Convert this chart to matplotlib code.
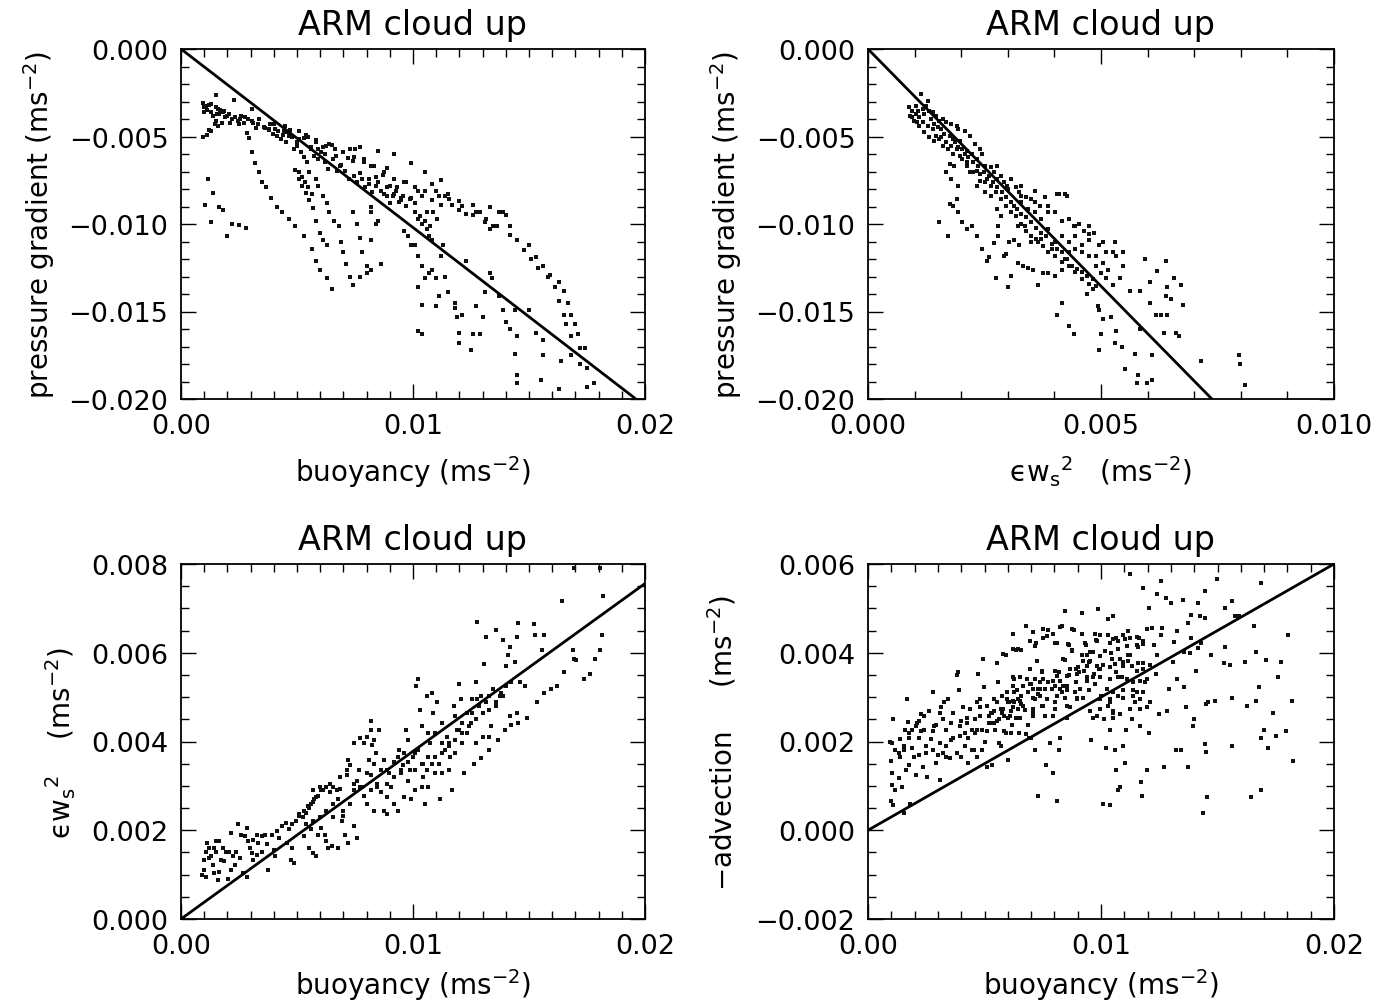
import numpy as np
import matplotlib
matplotlib.use('Agg')
import matplotlib.pyplot as plt
from matplotlib.ticker import MultipleLocator, FuncFormatter

plt.rcParams['font.family'] = ['DejaVu Sans']
plt.rcParams['mathtext.fontset'] = 'dejavusans'

# all values below are in units of 1e-3 m s^-2 (scaled when plotted)
SCALE = 1e-3

# top left: buoyancy vs pressure gradient
pts_a = np.array([
    [1.5, -2.6], [0.95, -3.1], [1.0, -3.3], [1.1, -3.5], [1.2, -3.2], [1.3, -3.6], [1.4, -3.8],
    [1.5, -4.1], [1.6, -3.4], [1.7, -3.5], [1.8, -3.6], [1.75, -4.2], [1.6, -4.4], [1.3, -4.7],
    [1.1, -4.9], [0.95, -5.0], [1.2, -4.6], [1.45, -4.3], [1.9, -3.9], [2.0, -3.8], [2.2, -4.0],
    [2.3, -2.9], [2.45, -4.1], [2.6, -3.8], [2.7, -4.2], [2.9, -4.0], [3.05, -3.4], [3.1, -4.2],
    [3.25, -4.5], [3.35, -4.0], [2.85, -4.8], [2.95, -5.1], [2.5, -4.3], [2.1, -4.2], [1.55, -3.7],
    [1.0, -3.6],
    [3.05, -5.9], [3.2, -6.5], [3.35, -7.0], [3.5, -7.6], [3.65, -7.9], [3.9, -8.5], [4.15, -9.05],
    [4.35, -9.3], [4.65, -9.7], [4.9, -10.1], [5.3, -10.7], [5.65, -11.4], [5.8, -12.1], [6.0, -12.6],
    [1.15, -7.4], [1.4, -8.2], [1.05, -8.9], [1.3, -9.9], [1.65, -9.0], [1.8, -9.2], [2.0, -10.7],
    [2.2, -10.0], [2.5, -10.05], [2.8, -10.25],
    [3.6, -4.5], [3.8, -4.6], [4.0, -4.3], [4.2, -4.7], [4.4, -4.9], [4.5, -4.4], [4.7, -4.6],
    [4.8, -5.0], [5.0, -5.3], [5.1, -4.7], [5.3, -5.1], [5.4, -4.9], [5.6, -5.6], [5.8, -5.2],
    [5.9, -5.7], [6.1, -5.6], [6.2, -6.0], [6.4, -5.4], [6.5, -5.5], [6.7, -6.1], [6.9, -6.6],
    [7.0, -5.9], [7.2, -6.2], [7.4, -6.4], [7.5, -5.7], [7.7, -7.1], [7.9, -6.3], [8.1, -7.4],
    [8.2, -6.7], [8.4, -7.3], [8.5, -7.6], [8.7, -7.2], [8.9, -6.8], [9.0, -7.8], [9.2, -8.3],
    [9.3, -7.9], [9.5, -8.5], [9.7, -7.6], [9.9, -8.5], [10.1, -8.8], [10.2, -8.1], [10.4, -8.4],
    [10.6, -9.3], [10.8, -8.6], [11.0, -8.1], [11.2, -8.9], [11.4, -8.4], [11.7, -8.9], [12.0, -9.2],
    [12.3, -9.4], [12.6, -9.5], [12.9, -9.3], [13.1, -9.9], [13.3, -10.3], [13.6, -10.1],
    [13.9, -9.3], [14.2, -10.6], [14.5, -10.9], [14.8, -11.5], [15.1, -12.0], [15.4, -12.5],
    [15.8, -13.0], [16.1, -13.6], [16.3, -14.4], [16.5, -15.2], [16.6, -15.7], [16.8, -16.4],
    [17.2, -17.1],
    [9.2, -6.0], [9.9, -6.5], [8.5, -5.8], [7.7, -5.6], [7.3, -5.7], [10.5, -7.0], [11.2, -7.5],
    [10.8, -7.7], [11.5, -8.3], [12.0, -8.7], [12.6, -8.9], [13.3, -9.0], [13.7, -9.3], [14.0, -9.5],
    [14.2, -10.1],
    [10.2, -11.8], [10.4, -12.4], [10.5, -13.1], [10.2, -13.6], [10.7, -12.8], [10.8, -12.6],
    [11.0, -13.1], [11.1, -14.1], [11.0, -14.7], [10.4, -14.6], [10.2, -16.1], [10.4, -16.3],
    [11.4, -13.0], [11.5, -13.9], [11.8, -14.5], [11.8, -14.8], [11.9, -15.3], [12.0, -16.2],
    [12.0, -16.8], [12.1, -15.2], [12.3, -12.1], [12.5, -17.2], [12.6, -16.3], [12.7, -14.7],
    [12.9, -16.3], [13.0, -15.3], [13.1, -13.9], [13.3, -12.8], [13.4, -13.1], [13.7, -14.1],
    [13.9, -14.9], [14.0, -15.6], [14.2, -16.0], [14.4, -14.9], [14.5, -16.4], [14.5, -18.6],
    [14.5, -19.1], [14.4, -17.4], [15.0, -14.9], [15.3, -16.2], [15.6, -16.6], [15.6, -17.5],
    [15.5, -18.9], [16.3, -19.4], [16.4, -17.8], [16.8, -17.5], [17.2, -18.0], [17.5, -18.2],
    [17.8, -19.1], [17.5, -19.3],
    [15.0, -11.2], [15.3, -11.9], [15.6, -12.4], [15.9, -12.9], [16.3, -13.3], [16.5, -13.8],
    [16.7, -14.5], [16.8, -15.2], [17.0, -15.7], [17.1, -16.3], [17.4, -17.1],
    [4.9, -6.9], [5.1, -7.4], [5.2, -7.8], [5.4, -8.2], [5.5, -8.6], [5.7, -9.1], [5.8, -9.8],
    [6.0, -10.5], [6.1, -10.9], [6.3, -11.2], [6.3, -13.1], [6.5, -13.7],
    [5.5, -7.0], [5.8, -7.4], [5.9, -7.8], [6.1, -8.4], [6.3, -8.8], [6.4, -9.3], [6.6, -9.8],
    [6.8, -10.1], [6.9, -11.0], [7.0, -11.6], [7.1, -12.3], [7.3, -13.0], [7.4, -13.5],
    [7.4, -9.3], [7.6, -10.0], [7.7, -10.8], [7.8, -11.6], [8.0, -12.4], [8.2, -12.6], [8.0, -12.8],
    [7.7, -13.0], [8.2, -10.9], [8.4, -10.0], [8.5, -9.8], [8.6, -12.3], [8.2, -9.0], [8.2, -9.3],
    [8.9, -8.4], [9.0, -8.8], [9.5, -8.6], [9.6, -10.4], [9.8, -10.7], [9.9, -11.2], [10.1, -11.2],
    [10.2, -9.7], [10.4, -10.0], [10.6, -10.3], [10.7, -10.7], [10.8, -10.9], [11.2, -11.8],
    [11.3, -11.2],
    [3.78, -4.57], [3.95, -4.86], [4.14, -4.95], [4.33, -5.14], [4.51, -5.33], [4.58, -4.76],
    [4.77, -5.05], [4.88, -5.71], [5.02, -5.52], [5.17, -5.9], [5.31, -6.19], [5.42, -6.48],
    [5.61, -5.71], [5.75, -6.1], [5.9, -6.29], [6.05, -5.9], [6.19, -6.48], [6.34, -6.86],
    [6.56, -6.29], [6.71, -6.95], [6.85, -6.67], [7.07, -6.95], [7.22, -7.43], [7.44, -7.24],
    [7.58, -7.62], [7.8, -7.43], [7.95, -7.9], [8.1, -7.71], [8.24, -8.19], [8.39, -7.81],
    [8.61, -8.1], [8.76, -8.29], [8.9, -7.9], [9.12, -8.38], [9.27, -8.1], [9.41, -8.76],
    [9.56, -8.38], [9.71, -8.95], [9.85, -8.57], [10.07, -9.33], [10.29, -9.52], [10.51, -9.81],
    [10.73, -10.1], [10.88, -9.33], [11.02, -9.71],
    [5.1, -7.05], [5.21, -7.33], [5.36, -7.62], [5.46, -7.9], [5.65, -8.29],
    [1.07, -3.24], [1.29, -3.14], [1.51, -3.33], [1.65, -3.71], [1.87, -3.52], [2.09, -3.71],
    [2.31, -3.9], [2.53, -4.0], [2.75, -3.9], [3.05, -4.1], [3.34, -4.29], [3.56, -4.48],
    [3.85, -4.29], [4.07, -4.57], [4.44, -4.67], [4.66, -4.95], [5.1, -5.14], [5.46, -5.05],
    [5.83, -5.33], [6.27, -5.52], [6.63, -5.71], [7.0, -5.9], [7.44, -6.19], [7.88, -6.48],
    [8.32, -6.67], [8.76, -7.05], [9.19, -7.43], [9.63, -7.62], [10.07, -7.9], [10.51, -8.1],
    [11.1, -8.38], [11.54, -8.57], [12.12, -8.95], [12.71, -9.33], [13.15, -9.71], [13.44, -10.1],
])

# top right: eps*ws^2 vs pressure gradient
pts_b = np.array([
    [1.13, -2.57], [1.28, -2.95], [0.88, -3.33], [0.95, -3.52], [1.02, -3.71], [0.91, -3.81],
    [0.99, -4.1], [1.09, -3.9], [1.17, -3.43], [1.31, -3.52], [1.39, -3.62], [1.46, -3.81],
    [1.53, -4.1], [1.61, -4.0], [1.68, -4.19], [1.79, -4.29], [1.9, -4.38], [1.93, -4.57],
    [1.09, -4.38], [1.2, -4.76], [1.31, -5.05], [1.42, -5.24], [1.53, -5.14], [1.61, -5.52],
    [1.72, -5.71], [1.82, -5.14], [1.97, -5.24], [2.08, -4.67], [2.19, -4.95], [2.3, -5.43],
    [2.41, -5.71], [2.45, -6.0], [2.34, -6.29], [2.23, -6.0], [2.12, -5.81], [1.97, -6.1],
    [1.82, -6.0], [1.75, -6.57], [1.85, -6.67], [2.12, -6.48], [2.19, -7.05], [2.34, -6.95],
    [2.52, -6.67], [2.63, -6.76], [2.77, -6.67], [2.7, -7.05], [2.55, -7.43], [2.41, -7.52],
    [2.34, -7.81], [2.52, -8.19], [2.63, -8.38], [2.77, -7.43], [2.85, -7.24], [2.92, -7.62],
    [2.99, -7.81], [3.07, -7.43], [3.18, -7.9], [3.25, -8.19], [3.28, -7.81], [3.39, -8.48],
    [3.5, -8.57], [3.58, -8.1], [3.69, -8.95], [3.8, -8.48], [3.87, -8.95], [4.01, -9.33],
    [4.09, -8.29], [4.23, -8.29], [4.31, -9.71], [4.42, -10.1], [4.53, -10.0], [4.64, -10.4],
    [4.74, -10.1], [4.85, -10.5], [4.96, -11.2], [5.11, -11.6], [5.29, -11.0], [5.33, -11.8],
    [5.47, -11.6], [5.47, -12.4], [5.4, -13.1], [5.26, -13.5], [5.11, -13.1], [5.0, -12.8],
    [4.89, -12.4], [4.74, -11.8], [4.6, -11.6], [4.45, -11.4], [4.31, -11.6], [4.23, -12.0],
    [4.16, -12.6], [4.01, -12.95], [3.87, -12.8], [3.76, -12.8], [3.65, -13.5], [3.54, -12.6],
    [3.43, -12.5], [3.32, -12.4], [3.21, -12.2], [3.25, -11.2], [3.14, -10.9], [3.03, -11.0],
    [2.92, -11.8], [2.8, -10.1], [2.85, -9.52], [2.77, -9.14], [2.8, -10.7], [2.7, -11.1],
    [2.96, -11.7], [3.07, -12.95], [3.0, -13.6], [2.74, -13.1], [2.59, -11.9], [2.55, -12.1],
    [2.45, -11.4], [2.34, -10.7], [2.23, -10.1], [2.12, -10.3], [2.01, -9.9], [1.93, -9.33],
    [1.82, -8.95], [1.75, -8.86], [1.9, -8.57], [1.93, -7.81], [1.78, -7.43], [1.68, -7.05],
    [1.71, -10.7], [1.53, -9.9],
    [4.05, -8.29], [4.27, -8.38], [4.05, -15.2], [4.16, -14.5], [4.31, -15.8], [4.42, -16.3],
    [4.71, -14.0], [4.82, -13.7], [4.93, -14.7], [4.96, -14.9], [4.96, -17.2], [5.0, -16.3],
    [5.04, -15.4], [5.22, -15.3], [5.33, -16.1], [5.29, -16.8], [5.44, -17.0], [5.51, -18.3],
    [5.62, -13.8], [5.73, -17.4], [5.77, -19.1], [5.8, -18.6], [5.84, -13.8], [5.84, -16.0],
    [5.95, -12.0], [5.99, -19.1], [6.06, -13.3], [6.06, -14.5], [6.1, -17.5], [6.1, -18.9],
    [6.17, -15.2], [6.2, -12.7], [6.28, -15.2], [6.35, -16.2], [6.39, -14.1], [6.39, -12.1],
    [6.42, -13.6], [6.42, -15.2], [6.5, -14.3], [6.57, -13.1], [6.61, -16.2], [6.68, -16.4],
    [6.72, -13.5], [6.75, -14.6], [7.15, -17.8], [7.96, -17.5], [7.99, -18.0], [8.1, -19.2],
    [3.72, -9.71], [3.87, -10.3], [4.01, -11.05], [4.16, -10.7], [4.31, -11.05], [4.45, -10.7],
    [4.6, -11.2], [4.74, -10.9], [4.89, -11.8], [5.04, -12.2], [5.15, -12.6], [3.58, -9.33],
    [3.43, -9.14], [3.28, -8.76], [3.14, -8.95], [3.72, -10.5], [3.94, -11.4], [3.5, -11.05],
    [3.36, -10.1], [3.21, -10.1], [3.65, -11.05],
    [1.02, -3.24], [1.08, -3.52], [1.2, -3.71], [1.24, -3.24], [1.35, -4.0], [1.42, -4.29],
    [1.5, -4.48], [1.57, -4.57], [1.64, -4.86], [1.75, -4.95], [1.86, -5.33], [1.93, -5.62],
    [2.01, -5.71], [2.08, -6.0], [2.15, -6.19], [2.26, -6.48], [2.37, -6.67], [2.48, -7.05],
    [2.59, -7.24], [2.69, -7.62], [2.77, -7.9], [2.88, -8.19], [2.96, -8.48], [3.07, -8.76],
    [3.2, -9.14], [3.28, -9.43], [3.39, -9.62], [3.5, -9.9], [3.61, -10.2], [3.72, -10.86],
    [3.83, -10.67], [3.94, -11.14], [4.05, -11.43], [4.16, -11.62], [4.27, -12.0], [4.38, -12.38],
    [4.49, -12.57], [4.6, -12.76], [4.71, -12.95], [4.82, -13.14],
    [0.95, -3.9], [1.06, -4.19], [1.17, -4.19], [1.28, -4.38], [1.39, -4.57], [1.46, -4.95],
    [1.57, -5.05], [1.68, -5.33], [1.79, -5.52], [1.9, -5.71], [2.01, -6.29], [2.12, -6.67],
    [2.26, -7.05], [2.41, -7.14], [2.52, -7.62], [2.63, -7.81], [2.74, -8.19], [2.85, -8.57],
    [2.96, -8.95], [3.07, -9.33], [3.18, -9.52], [3.28, -10.0], [3.39, -10.38], [3.5, -10.67],
    [3.61, -10.86], [3.76, -11.24], [3.87, -11.62], [4.01, -11.81], [4.16, -12.19], [4.31, -12.38],
    [4.45, -12.76], [4.6, -13.14], [4.74, -13.43], [4.89, -13.52],
    [3.0, -8.0], [3.28, -8.38], [3.58, -8.76], [3.87, -9.33], [4.16, -9.81], [4.45, -10.1],
    [4.74, -10.57], [5.04, -11.05], [5.26, -11.62],
])

# bottom left: buoyancy vs eps*ws^2
pts_c = np.array([
    [0.92, 0.99], [1.07, 0.95], [1.0, 1.33], [1.07, 1.52], [1.14, 1.71], [1.22, 1.6], [1.29, 1.41],
    [1.36, 1.22], [1.43, 1.03], [1.58, 0.88], [1.65, 1.07], [1.73, 1.33], [1.8, 1.6], [1.65, 1.75],
    [1.51, 1.75], [1.95, 1.52], [2.02, 0.91], [2.17, 1.1], [2.24, 1.41], [2.39, 1.52], [2.17, 1.94],
    [2.46, 2.13], [2.6, 1.9], [2.75, 1.87], [2.83, 2.06], [2.9, 1.75], [2.97, 1.6], [3.05, 1.49],
    [3.12, 1.79], [3.27, 1.9], [3.34, 1.71], [3.48, 1.87], [3.63, 1.9], [2.68, 1.03], [2.83, 0.95],
    [3.12, 1.33], [3.27, 1.45], [3.48, 1.52], [3.7, 1.68], [3.75, 1.1], [4.0, 1.56], [4.07, 1.41],
    [3.92, 1.9], [4.14, 1.98], [4.22, 1.83], [4.36, 2.1], [4.51, 2.17], [4.66, 2.02], [4.8, 2.13],
    [4.58, 1.71], [4.73, 1.33], [4.88, 1.26], [4.8, 1.6], [4.95, 2.21], [5.1, 2.32], [5.24, 2.29],
    [5.39, 2.4], [5.53, 2.51], [5.68, 2.63], [5.83, 2.74], [5.97, 2.97], [6.12, 2.9], [6.27, 2.97],
    [6.41, 2.86], [6.56, 2.97], [6.71, 2.9], [6.85, 2.93], [5.53, 1.6], [5.68, 1.49], [5.83, 1.41],
    [5.31, 1.87], [5.61, 2.02], [5.9, 1.9], [6.05, 2.06], [6.19, 1.9], [6.27, 1.75], [6.49, 1.64],
    [6.78, 1.6], [6.34, 1.6], [6.56, 2.29], [6.93, 2.21], [7.0, 2.32], [7.07, 1.9], [7.14, 3.24],
    [7.21, 3.58], [7.29, 3.47], [7.21, 1.71], [7.44, 2.1], [7.58, 1.83], [7.73, 4.08], [7.8, 2.97],
    [7.88, 2.78], [8.0, 3.28], [8.1, 3.58], [8.17, 4.46], [8.24, 3.92], [8.32, 4.04], [8.39, 3.73],
    [8.46, 3.05], [8.54, 4.27], [8.61, 2.86], [8.76, 2.44], [8.9, 2.74], [8.98, 3.28], [9.05, 2.97],
    [9.19, 2.59], [9.34, 3.66], [9.49, 3.35], [9.63, 3.73], [9.71, 4.27], [9.78, 4.04], [9.85, 3.35],
    [9.93, 2.7], [10.07, 3.73], [10.15, 5.26], [10.22, 5.41], [10.29, 4.72], [10.37, 4.34],
    [10.44, 3.5], [10.51, 2.59], [10.59, 5.03], [10.66, 4.19], [10.73, 3.96], [10.8, 5.1],
    [10.88, 4.65], [10.95, 4.19], [11.02, 4.88], [11.1, 3.5], [11.17, 2.7], [11.24, 4.42],
    [11.39, 3.81], [11.54, 3.96], [11.68, 2.9], [11.76, 4.8], [11.83, 4.57], [11.9, 4.27],
    [11.98, 5.3], [12.05, 4.95], [12.12, 3.96], [12.2, 3.28], [12.34, 4.65], [12.49, 4.42],
    [12.56, 4.95], [12.63, 3.5], [12.71, 5.33], [12.78, 6.7], [12.85, 4.8], [12.93, 3.62],
    [13.07, 5.75], [13.15, 6.36], [13.29, 3.81], [13.37, 4.34], [13.44, 5.18], [13.59, 6.51],
    [13.66, 4.04], [13.73, 5.03], [13.88, 6.29], [13.95, 4.27], [14.03, 5.71], [14.1, 5.94],
    [14.17, 6.13], [14.24, 4.38], [14.39, 5.79], [14.47, 6.36], [14.54, 6.67], [14.54, 4.42],
    [14.61, 5.33], [14.83, 5.26], [14.91, 4.53], [15.2, 6.64], [15.27, 6.4], [15.34, 4.88],
    [15.56, 6.06], [15.64, 6.4], [15.64, 5.1], [15.93, 5.18], [16.22, 5.26], [16.44, 7.16],
    [16.51, 5.56], [16.88, 6.06], [16.95, 5.87], [16.95, 7.92], [17.03, 5.83], [17.39, 5.41],
    [17.61, 5.52], [17.83, 5.87], [18.05, 6.06], [18.13, 6.4], [18.2, 7.28], [18.05, 7.92],
    [5.1, 2.36], [5.31, 2.44], [5.46, 2.55], [5.61, 2.59], [5.75, 2.7], [5.9, 2.78], [6.05, 2.9],
    [7.58, 3.12], [7.66, 3.35], [7.44, 2.9], [7.29, 2.59],
    [8.17, 3.24], [8.32, 3.5], [8.61, 3.35], [8.76, 3.58], [8.9, 3.35], [9.19, 3.54], [9.41, 3.81],
    [9.56, 3.47], [9.78, 3.54], [10.0, 3.66], [10.22, 3.81], [10.44, 3.2], [10.59, 3.35],
    [10.8, 3.5], [10.95, 3.28], [11.24, 3.96], [11.46, 4.11], [11.61, 3.66], [11.83, 3.73],
    [11.98, 4.27], [12.12, 4.42], [12.34, 4.19], [12.56, 4.65], [12.78, 4.95], [12.93, 5.03],
    [13.15, 4.88], [13.29, 5.03], [13.59, 4.8], [13.81, 5.1], [14.03, 5.26], [14.24, 5.33],
    [6.56, 2.59], [6.78, 2.7], [7.0, 2.44], [6.27, 2.44], [5.97, 2.29], [5.68, 2.21], [5.39, 2.13],
    [8.02, 2.59], [8.32, 2.44], [8.9, 2.36], [9.34, 2.44], [9.63, 2.74], [10.07, 2.9], [10.37, 2.97],
    [10.66, 2.97], [11.24, 3.28], [11.54, 3.35], [12.71, 3.96], [13.0, 4.11], [13.29, 4.11],
    [14.17, 4.57], [14.47, 4.65],
    [1.22, 1.37], [1.51, 1.52], [1.87, 1.3], [2.09, 1.52], [2.31, 1.22], [2.53, 1.37], [1.43, 1.6],
    [1.0, 1.1],
    [7.44, 3.05], [7.73, 2.97], [8.17, 2.9], [8.46, 2.97], [8.9, 3.05], [9.19, 3.2], [9.49, 3.28],
    [9.78, 3.12], [10.07, 3.35], [10.37, 3.5], [10.66, 3.66], [10.95, 3.66], [11.24, 3.73],
    [11.54, 3.89], [11.83, 4.04], [12.12, 4.19], [12.42, 4.34], [12.71, 4.5], [13.0, 4.65],
    [13.29, 4.72], [13.59, 4.88], [13.88, 5.03],
    [5.68, 2.9], [5.97, 2.97], [6.41, 3.05], [6.85, 3.2], [7.14, 3.35], [7.44, 3.96], [7.88, 3.96],
    [8.02, 4.11], [8.17, 4.27],
])

# bottom right: buoyancy vs -advection
pts_d = np.array([
    [1.09, 2.5], [1.02, 1.97], [0.99, 1.55], [1.05, 1.28], [1.02, 1.01], [0.99, 0.67], [1.09, 0.56],
    [1.17, 1.81], [1.17, 0.9], [1.31, 1.17], [1.39, 2.06], [1.46, 0.98], [1.53, 0.4], [1.6, 2.26],
    [1.64, 1.36], [1.68, 2.96], [1.71, 2.45], [1.75, 2.07], [1.77, 1.47], [1.82, 0.59], [1.9, 1.85],
    [1.97, 1.66], [2.04, 1.24], [2.12, 2.42], [2.19, 1.7], [2.26, 2.61], [2.34, 1.43], [2.41, 2.27],
    [2.48, 1.74], [2.55, 1.2], [2.63, 2.69], [2.7, 2.06], [2.77, 3.11], [2.85, 2.35], [2.92, 1.51],
    [2.99, 1.7], [3.07, 1.13], [3.14, 2.77], [3.21, 2.5], [3.28, 2.88], [3.36, 1.66], [3.43, 2.96],
    [3.5, 1.62], [3.58, 2.04], [3.65, 2.08], [3.8, 3.49], [3.87, 3.57], [3.91, 3.15], [3.94, 2.35],
    [4.01, 1.66], [4.09, 2.77], [4.16, 1.89], [4.23, 2.54], [4.31, 1.51], [4.45, 2.27], [4.53, 1.81],
    [4.6, 2.5], [4.67, 1.66], [4.74, 3.53], [4.82, 2.96], [4.89, 2.27], [4.93, 3.86], [4.96, 3.22],
    [5.04, 2.0], [5.11, 1.43], [5.18, 2.58], [5.26, 2.42], [5.33, 1.47], [5.4, 2.69], [5.47, 2.27],
    [5.55, 3.76], [5.58, 3.34], [5.62, 2.5], [5.69, 1.89], [5.77, 3.03], [5.84, 2.23], [5.91, 3.95],
    [5.99, 1.58], [6.06, 2.88], [6.13, 2.69], [6.2, 2.38], [6.28, 3.41], [6.35, 4.06], [6.42, 2.96],
    [6.5, 2.19], [6.57, 4.06], [6.64, 3.26], [6.72, 2.72], [6.79, 4.61], [6.86, 2.38], [6.93, 2.07],
    [7.01, 3.3], [7.08, 4.46], [7.15, 1.81], [7.23, 4.22], [7.3, 0.78], [7.37, 3.03], [7.45, 3.57],
    [7.52, 4.33], [7.59, 2.58], [7.66, 1.47], [7.74, 4.51], [7.81, 1.96], [7.88, 3.18], [7.96, 1.28],
    [8.03, 2.88], [8.1, 4.21], [8.1, 0.67], [8.18, 1.81], [8.25, 2.08], [8.32, 4.61], [8.39, 3.26],
    [8.47, 4.94], [8.47, 3.83], [8.54, 2.8], [8.61, 4.17], [8.76, 4.06], [8.83, 4.51], [8.91, 3.64],
    [8.98, 2.96], [9.05, 3.57], [9.2, 4.9], [9.27, 3.6], [9.34, 4.17], [9.42, 3.94], [9.49, 3.15],
    [9.56, 2.04], [9.64, 2.54], [9.71, 3.53], [9.78, 4.29], [9.85, 4.98], [9.93, 3.64], [10.0, 3.03],
    [10.07, 0.59], [10.15, 2.5], [10.22, 1.85], [10.29, 4.75], [10.29, 2.8], [10.37, 2.27],
    [10.4, 0.56], [10.44, 4.0], [10.51, 4.83], [10.58, 1.81], [10.66, 1.36], [10.73, 0.9],
    [10.8, 0.98], [10.88, 3.45], [10.95, 1.89], [11.02, 1.51], [11.09, 2.27], [11.17, 3.95],
    [11.24, 5.77], [11.31, 2.5], [11.39, 3.34], [11.46, 2.88], [11.53, 3.11], [11.61, 4.33],
    [11.68, 2.35], [11.71, 1.09], [11.75, 0.78], [11.82, 5.47], [11.9, 3.34], [11.97, 1.36],
    [12.04, 2.19], [12.04, 5.01], [12.12, 2.88], [12.19, 4.55], [12.34, 3.53], [12.41, 5.32],
    [12.48, 2.61], [12.56, 5.62], [12.63, 4.55], [12.7, 1.43], [12.77, 5.24], [12.85, 2.69],
    [12.92, 3.18], [12.99, 5.13], [13.07, 3.79], [13.14, 4.25], [13.21, 1.81], [13.28, 3.41],
    [13.43, 1.81], [13.5, 5.2], [13.58, 3.22], [13.65, 2.77], [13.72, 4.67], [13.72, 1.43],
    [13.8, 4.0], [13.87, 4.86], [13.94, 2.35], [14.01, 2.5], [14.09, 3.6], [14.16, 5.13],
    [14.23, 4.83], [14.31, 4.21], [14.38, 0.4], [14.45, 1.94], [14.45, 5.39], [14.47, 4.79],
    [14.5, 2.84], [14.5, 1.77], [14.53, 0.75], [14.6, 2.88], [14.74, 3.95], [14.88, 2.92],
    [14.96, 5.66], [15.26, 3.76], [15.33, 5.01], [15.33, 4.14], [15.55, 3.72], [15.62, 5.17],
    [15.62, 2.99], [15.62, 1.89], [15.77, 4.83], [15.91, 4.83], [16.2, 3.79], [16.28, 2.8],
    [16.42, 0.75], [16.57, 4.6], [16.64, 4.02], [16.64, 2.92], [16.79, 3.22], [16.86, 2.08],
    [16.86, 5.58], [16.86, 0.9], [17.01, 2.27], [17.08, 3.83], [17.15, 1.85], [17.37, 2.65],
    [17.52, 2.12], [17.59, 3.45], [17.74, 3.79], [17.96, 2.23], [18.03, 4.4], [18.18, 2.92],
    [18.25, 1.55],
    [1.31, 1.74], [1.53, 1.89], [1.9, 2.27], [2.19, 2.08], [2.41, 2.57], [2.77, 2.23], [3.07, 1.97],
    [3.36, 2.27], [3.65, 2.65], [3.94, 2.12], [4.23, 2.42], [4.38, 2.73], [4.67, 2.27], [4.82, 2.58],
    [5.11, 2.8], [5.26, 2.65], [5.4, 2.42], [5.55, 2.88], [5.69, 2.73], [5.84, 2.58], [5.99, 2.88],
    [6.28, 3.11], [6.42, 2.73], [6.57, 3.03], [6.86, 3.11], [7.15, 2.96], [7.3, 3.18], [7.59, 3.18],
    [7.74, 3.34], [8.03, 3.26], [8.18, 3.57], [8.32, 3.11], [8.61, 3.49], [8.91, 3.34], [9.2, 3.94],
    [9.49, 3.79], [9.64, 4.02], [10.07, 3.72], [10.37, 3.41], [10.66, 3.57], [10.95, 3.79],
    [11.24, 3.95], [11.53, 3.6], [11.82, 3.64], [12.12, 3.72], [12.41, 3.95], [10.37, 2.88],
    [10.51, 2.65], [10.73, 3.03], [12.26, 4.17], [12.56, 4.4], [13.28, 4.48], [13.58, 4.02],
    [13.87, 4.33], [14.16, 4.1], [11.24, 4.33], [10.95, 4.4], [10.66, 4.33], [11.53, 4.17],
    [6.24, 4.42], [6.95, 4.27], [7.53, 4.54], [7.67, 4.38], [7.96, 4.42], [8.24, 4.57], [8.74, 4.54],
    [9.17, 4.42], [9.74, 4.42], [9.96, 4.39], [10.32, 4.39], [10.53, 4.31], [10.75, 4.27],
    [11.03, 4.31], [11.17, 4.5], [11.53, 4.35], [11.82, 4.27], [11.96, 4.54],
    [5.81, 3.97], [6.24, 4.08], [6.45, 4.08], [7.17, 4.16], [8.03, 4.23], [8.6, 4.2], [8.74, 4.05],
    [9.31, 4.23], [9.53, 4.01], [9.82, 4.27], [10.17, 4.05], [10.39, 4.23], [10.75, 4.08],
    [11.1, 4.16], [11.6, 4.12], [11.82, 4.2],
    [7.24, 3.82], [8.38, 3.86], [9.24, 3.82], [9.53, 3.82], [9.96, 3.93], [10.46, 3.86],
    [10.82, 3.86], [11.17, 3.82], [11.6, 3.78], [11.82, 3.78],
    [6.95, 3.63], [7.45, 3.6], [8.03, 3.6], [8.67, 3.63], [9.03, 3.67], [9.39, 3.71], [9.82, 3.71],
    [9.96, 3.63], [10.39, 3.67], [10.6, 3.75], [10.96, 3.71], [11.32, 3.71],
    [6.24, 3.45], [6.52, 3.45], [6.81, 3.41], [7.17, 3.41], [7.53, 3.41], [8.1, 3.48], [8.53, 3.48],
    [8.96, 3.52], [9.39, 3.45], [9.67, 3.45], [9.96, 3.45], [10.39, 3.41], [10.75, 3.45],
    [11.1, 3.41], [11.67, 3.37], [11.96, 3.41],
    [6.24, 3.26], [6.95, 3.3], [7.38, 3.33], [7.96, 3.37], [8.24, 3.37], [8.53, 3.26], [9.39, 3.37],
    [9.74, 3.3],
    [5.95, 3.11], [6.38, 3.15], [7.1, 3.18], [7.38, 3.18], [7.88, 3.18], [8.24, 3.18], [8.53, 3.15],
    [8.89, 3.11], [9.1, 3.18], [10.24, 3.18], [10.53, 3.11], [10.96, 3.15], [11.39, 3.15],
    [11.82, 3.11],
    [5.95, 2.96], [6.24, 2.92], [6.52, 2.92], [7.1, 2.99], [7.67, 2.96], [8.1, 3.03], [8.46, 2.99],
    [8.96, 2.99], [9.24, 2.99], [9.96, 2.96], [10.39, 2.96], [10.96, 2.99], [11.39, 3.03],
    [11.67, 2.96],
    [5.81, 2.73], [6.24, 2.77], [6.67, 2.81], [7.1, 2.73], [7.53, 2.81], [8.03, 2.73], [8.67, 2.77],
    [9.53, 2.69], [9.96, 2.73], [10.53, 2.69], [10.82, 2.62], [11.25, 2.73], [11.67, 2.73],
    [11.96, 2.77],
    [6.1, 2.58], [6.52, 2.54], [7.1, 2.58], [7.96, 2.58], [8.53, 2.54], [9.82, 2.58], [10.53, 2.54],
    [0.95, 2.0], [1.39, 1.66], [1.53, 1.81], [1.75, 2.19], [2.04, 2.35], [2.19, 2.46], [2.26, 2.23],
    [2.48, 1.89], [2.77, 1.81], [2.92, 2.38], [3.07, 2.65], [3.21, 1.74], [3.36, 1.89], [3.58, 2.42],
    [3.8, 1.74], [4.01, 2.46], [4.16, 2.19], [4.31, 2.08], [4.45, 1.81], [4.6, 2.19], [4.67, 2.88],
    [4.82, 2.77], [4.89, 1.81], [5.11, 2.23], [5.18, 2.42], [5.33, 2.65], [5.4, 2.96], [5.55, 2.46],
    [5.62, 1.97], [5.77, 2.65], [5.91, 2.19], [5.99, 2.54], [6.13, 2.19], [6.28, 2.88], [6.35, 2.54],
    [6.57, 2.84], [6.79, 2.16], [7.01, 2.08], [7.08, 2.65], [7.3, 3.07], [7.45, 2.8],
])

# fitted line slopes (through the origin)
slope_a = -1.02
slope_b = -2.71
slope_c = 0.378
slope_d = 0.30

title = 'ARM cloud up'
unit = r'(ms$^{-2}$)'
eps_ws2 = '\u03f5w$_\\mathrm{s}$$^\\mathrm{2}$'

W, H = 1378, 1003
fig = plt.figure(figsize=(W / 100, H / 100), dpi=100)


def fmt_with_minus(fmt):
    return FuncFormatter(lambda v, p: (fmt % v).replace('-', '\u2212'))


def add_panel(box, pts, slope, xmax, xmajor, xminor, xfmt, ylim, ymajor, yminor,
              xlabel, ylabel, xlab_y, ylab_x):
    l, t, r, b = box
    ax = fig.add_axes([l / W, 1 - b / H, (r - l) / W, (b - t) / H])
    ax.plot(pts[:, 0] * SCALE, pts[:, 1] * SCALE, 's', color='#111111', ms=2.4, mew=0)
    xx = np.array([0.0, xmax])
    ax.plot(xx, slope * xx, color='black', lw=2.0)
    ax.set_xlim(0, xmax)
    ax.set_ylim(*ylim)
    ax.xaxis.set_major_locator(MultipleLocator(xmajor))
    ax.xaxis.set_minor_locator(MultipleLocator(xminor))
    ax.yaxis.set_major_locator(MultipleLocator(ymajor))
    ax.yaxis.set_minor_locator(MultipleLocator(yminor))
    ax.xaxis.set_major_formatter(fmt_with_minus(xfmt))
    ax.yaxis.set_major_formatter(fmt_with_minus('%.3f'))
    ax.tick_params(which='both', direction='in', top=True, right=True, width=1.0,
                   labelsize=19.5)
    ax.tick_params(which='major', length=11)
    ax.tick_params(which='minor', length=6)
    ax.tick_params(axis='x', pad=10)
    ax.tick_params(axis='y', pad=9)
    for s in ax.spines.values():
        s.set_linewidth(1.3)
    ax.set_title(title, fontsize=24, pad=11)
    ax.set_xlabel(xlabel, fontsize=20, va='center')
    ax.set_ylabel(ylabel, fontsize=20, va='center')
    ax.xaxis.set_label_coords(0.5, xlab_y)
    ax.yaxis.set_label_coords(ylab_x, 0.5)
    return ax


add_panel((181, 50, 645, 400), pts_a, slope_a, 0.02, 0.01, 0.001, '%.2f',
          (-0.020, 0.0), 0.005, 0.001,
          'buoyancy ' + unit, 'pressure gradient ' + unit, -0.205, -0.305)
add_panel((868, 50, 1334, 400), pts_b, slope_b, 0.010, 0.005, 0.001, '%.3f',
          (-0.020, 0.0), 0.005, 0.001,
          eps_ws2 + '   ' + unit, 'pressure gradient ' + unit, -0.205, -0.305)
add_panel((181, 565, 645, 920), pts_c, slope_c, 0.02, 0.01, 0.001, '%.2f',
          (0.0, 0.008), 0.002, 0.0005,
          'buoyancy ' + unit, eps_ws2 + '    ' + unit, -0.183, -0.26)
add_panel((868, 565, 1334, 920), pts_d, slope_d, 0.02, 0.01, 0.001, '%.2f',
          (-0.002, 0.006), 0.002, 0.0005,
          'buoyancy ' + unit, '\u2212advection     ' + unit, -0.183, -0.313)

fig.savefig('out.png', dpi=100)
